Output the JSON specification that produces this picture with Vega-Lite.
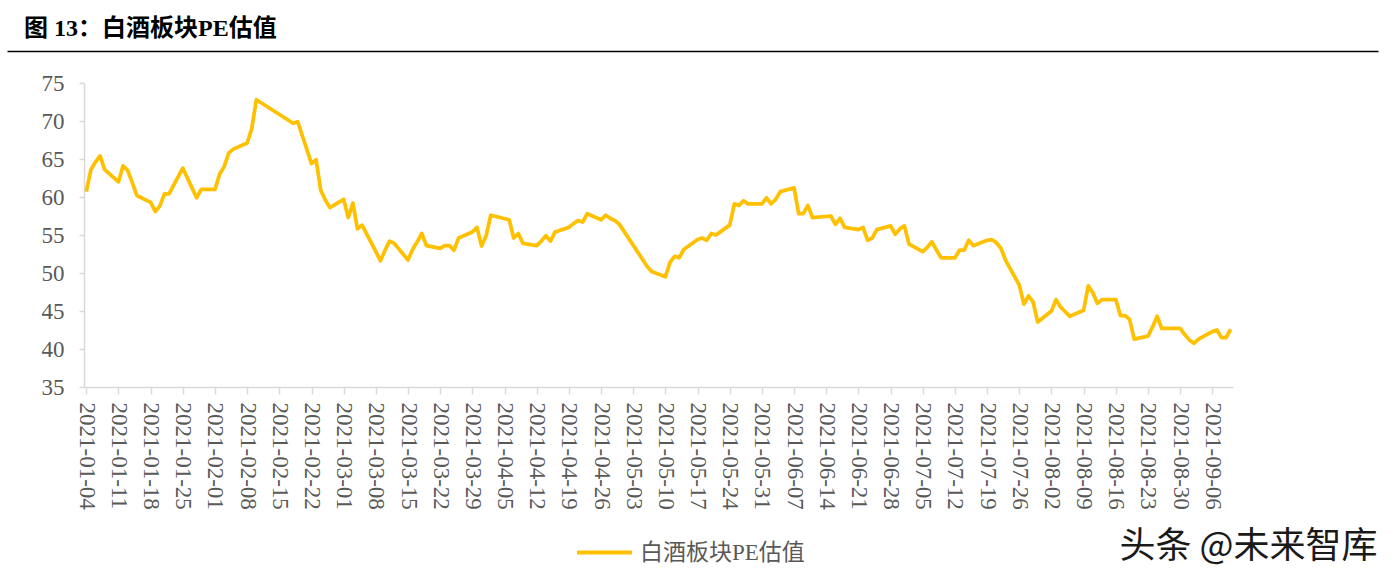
{
  "$schema": "https://vega.github.io/schema/vega-lite/v6.json",
  "width": 1371,
  "height": 336,
  "autosize": {"type": "pad"},
  "padding": {"left": 7, "top": 17, "right": 16, "bottom": 10},
  "background": "white",
  "title": {
    "text": "图 13：白酒板块PE估值",
    "anchor": "start",
    "frame": "group",
    "dx": 17,
    "offset": 10,
    "font": "Liberation Serif, Noto Sans CJK SC",
    "fontSize": 24,
    "fontWeight": "bold",
    "color": "#000000"
  },
  "config": {"view": {"stroke": null}},
  "layer": [
    {
      "data": {
        "values": [
          {"date": "2021-01-04", "pe": 60.7},
          {"date": "2021-01-05", "pe": 63.6},
          {"date": "2021-01-06", "pe": 64.6},
          {"date": "2021-01-07", "pe": 65.4},
          {"date": "2021-01-08", "pe": 63.6},
          {"date": "2021-01-11", "pe": 62.0},
          {"date": "2021-01-12", "pe": 64.1},
          {"date": "2021-01-13", "pe": 63.5},
          {"date": "2021-01-14", "pe": 61.9},
          {"date": "2021-01-15", "pe": 60.2},
          {"date": "2021-01-18", "pe": 59.3},
          {"date": "2021-01-19", "pe": 58.1},
          {"date": "2021-01-20", "pe": 58.8},
          {"date": "2021-01-21", "pe": 60.4},
          {"date": "2021-01-22", "pe": 60.4},
          {"date": "2021-01-25", "pe": 63.8},
          {"date": "2021-01-26", "pe": 62.5},
          {"date": "2021-01-27", "pe": 61.2},
          {"date": "2021-01-28", "pe": 59.9},
          {"date": "2021-01-29", "pe": 61.0},
          {"date": "2021-02-01", "pe": 61.0},
          {"date": "2021-02-02", "pe": 63.0},
          {"date": "2021-02-03", "pe": 64.0},
          {"date": "2021-02-04", "pe": 65.8},
          {"date": "2021-02-05", "pe": 66.3},
          {"date": "2021-02-08", "pe": 67.1},
          {"date": "2021-02-09", "pe": 69.0},
          {"date": "2021-02-10", "pe": 72.8},
          {"date": "2021-02-18", "pe": 69.7},
          {"date": "2021-02-19", "pe": 69.9},
          {"date": "2021-02-22", "pe": 64.4},
          {"date": "2021-02-23", "pe": 64.9},
          {"date": "2021-02-24", "pe": 60.9},
          {"date": "2021-02-25", "pe": 59.6},
          {"date": "2021-02-26", "pe": 58.6},
          {"date": "2021-03-01", "pe": 59.7},
          {"date": "2021-03-02", "pe": 57.3},
          {"date": "2021-03-03", "pe": 59.2},
          {"date": "2021-03-04", "pe": 55.8},
          {"date": "2021-03-05", "pe": 56.3},
          {"date": "2021-03-08", "pe": 52.8},
          {"date": "2021-03-09", "pe": 51.6},
          {"date": "2021-03-10", "pe": 53.0},
          {"date": "2021-03-11", "pe": 54.2},
          {"date": "2021-03-12", "pe": 53.9},
          {"date": "2021-03-15", "pe": 51.7},
          {"date": "2021-03-16", "pe": 53.1},
          {"date": "2021-03-17", "pe": 54.1},
          {"date": "2021-03-18", "pe": 55.2},
          {"date": "2021-03-19", "pe": 53.6},
          {"date": "2021-03-22", "pe": 53.25},
          {"date": "2021-03-23", "pe": 53.6},
          {"date": "2021-03-24", "pe": 53.6},
          {"date": "2021-03-25", "pe": 53.0},
          {"date": "2021-03-26", "pe": 54.6},
          {"date": "2021-03-29", "pe": 55.4},
          {"date": "2021-03-30", "pe": 56.0},
          {"date": "2021-03-31", "pe": 53.55},
          {"date": "2021-04-01", "pe": 54.9},
          {"date": "2021-04-02", "pe": 57.6},
          {"date": "2021-04-06", "pe": 57.0},
          {"date": "2021-04-07", "pe": 54.6},
          {"date": "2021-04-08", "pe": 55.2},
          {"date": "2021-04-09", "pe": 53.9},
          {"date": "2021-04-12", "pe": 53.6},
          {"date": "2021-04-13", "pe": 54.2},
          {"date": "2021-04-14", "pe": 54.9},
          {"date": "2021-04-15", "pe": 54.2},
          {"date": "2021-04-16", "pe": 55.4},
          {"date": "2021-04-19", "pe": 56.0},
          {"date": "2021-04-20", "pe": 56.5},
          {"date": "2021-04-21", "pe": 56.9},
          {"date": "2021-04-22", "pe": 56.7},
          {"date": "2021-04-23", "pe": 57.8},
          {"date": "2021-04-26", "pe": 57.0},
          {"date": "2021-04-27", "pe": 57.6},
          {"date": "2021-04-28", "pe": 57.2},
          {"date": "2021-04-29", "pe": 56.9},
          {"date": "2021-04-30", "pe": 56.4},
          {"date": "2021-05-06", "pe": 50.9},
          {"date": "2021-05-07", "pe": 50.2},
          {"date": "2021-05-10", "pe": 49.5},
          {"date": "2021-05-11", "pe": 51.4},
          {"date": "2021-05-12", "pe": 52.2},
          {"date": "2021-05-13", "pe": 52.0},
          {"date": "2021-05-14", "pe": 53.1},
          {"date": "2021-05-17", "pe": 54.4},
          {"date": "2021-05-18", "pe": 54.6},
          {"date": "2021-05-19", "pe": 54.3},
          {"date": "2021-05-20", "pe": 55.2},
          {"date": "2021-05-21", "pe": 55.0},
          {"date": "2021-05-24", "pe": 56.3},
          {"date": "2021-05-25", "pe": 59.1},
          {"date": "2021-05-26", "pe": 58.9},
          {"date": "2021-05-27", "pe": 59.5},
          {"date": "2021-05-28", "pe": 59.1},
          {"date": "2021-05-31", "pe": 59.1},
          {"date": "2021-06-01", "pe": 59.9},
          {"date": "2021-06-02", "pe": 59.1},
          {"date": "2021-06-03", "pe": 59.7},
          {"date": "2021-06-04", "pe": 60.7},
          {"date": "2021-06-07", "pe": 61.2},
          {"date": "2021-06-08", "pe": 57.8},
          {"date": "2021-06-09", "pe": 57.8},
          {"date": "2021-06-10", "pe": 58.9},
          {"date": "2021-06-11", "pe": 57.3},
          {"date": "2021-06-15", "pe": 57.5},
          {"date": "2021-06-16", "pe": 56.4},
          {"date": "2021-06-17", "pe": 57.2},
          {"date": "2021-06-18", "pe": 56.0},
          {"date": "2021-06-21", "pe": 55.7},
          {"date": "2021-06-22", "pe": 56.0},
          {"date": "2021-06-23", "pe": 54.3},
          {"date": "2021-06-24", "pe": 54.6},
          {"date": "2021-06-25", "pe": 55.7},
          {"date": "2021-06-28", "pe": 56.2},
          {"date": "2021-06-29", "pe": 55.1},
          {"date": "2021-06-30", "pe": 55.8},
          {"date": "2021-07-01", "pe": 56.2},
          {"date": "2021-07-02", "pe": 53.8},
          {"date": "2021-07-05", "pe": 52.8},
          {"date": "2021-07-06", "pe": 53.4},
          {"date": "2021-07-07", "pe": 54.1},
          {"date": "2021-07-08", "pe": 53.0},
          {"date": "2021-07-09", "pe": 52.0},
          {"date": "2021-07-12", "pe": 52.0},
          {"date": "2021-07-13", "pe": 53.0},
          {"date": "2021-07-14", "pe": 53.0},
          {"date": "2021-07-15", "pe": 54.3},
          {"date": "2021-07-16", "pe": 53.6},
          {"date": "2021-07-19", "pe": 54.3},
          {"date": "2021-07-20", "pe": 54.4},
          {"date": "2021-07-21", "pe": 54.0},
          {"date": "2021-07-22", "pe": 53.25},
          {"date": "2021-07-23", "pe": 51.7},
          {"date": "2021-07-26", "pe": 48.4},
          {"date": "2021-07-27", "pe": 45.9},
          {"date": "2021-07-28", "pe": 47.0},
          {"date": "2021-07-29", "pe": 46.2},
          {"date": "2021-07-30", "pe": 43.55},
          {"date": "2021-08-02", "pe": 45.0},
          {"date": "2021-08-03", "pe": 46.5},
          {"date": "2021-08-04", "pe": 45.5},
          {"date": "2021-08-05", "pe": 44.9},
          {"date": "2021-08-06", "pe": 44.3},
          {"date": "2021-08-09", "pe": 45.1},
          {"date": "2021-08-10", "pe": 48.3},
          {"date": "2021-08-11", "pe": 47.4},
          {"date": "2021-08-12", "pe": 46.0},
          {"date": "2021-08-13", "pe": 46.5},
          {"date": "2021-08-16", "pe": 46.5},
          {"date": "2021-08-17", "pe": 44.4},
          {"date": "2021-08-18", "pe": 44.4},
          {"date": "2021-08-19", "pe": 43.9},
          {"date": "2021-08-20", "pe": 41.3},
          {"date": "2021-08-23", "pe": 41.7},
          {"date": "2021-08-24", "pe": 42.9},
          {"date": "2021-08-25", "pe": 44.3},
          {"date": "2021-08-26", "pe": 42.7},
          {"date": "2021-08-27", "pe": 42.7},
          {"date": "2021-08-30", "pe": 42.7},
          {"date": "2021-08-31", "pe": 41.9},
          {"date": "2021-09-01", "pe": 41.2},
          {"date": "2021-09-02", "pe": 40.75},
          {"date": "2021-09-03", "pe": 41.3},
          {"date": "2021-09-06", "pe": 42.3},
          {"date": "2021-09-07", "pe": 42.5},
          {"date": "2021-09-08", "pe": 41.5},
          {"date": "2021-09-09", "pe": 41.5},
          {"date": "2021-09-10", "pe": 42.6}
        ]
      },
      "mark": {"type": "line", "strokeWidth": 3.75, "strokeJoin": "round", "strokeCap": "butt"},
      "encoding": {
        "x": {
          "field": "date",
          "type": "temporal",
          "scale": {
            "type": "utc",
            "domain": [
              {"year": 2021, "month": 1, "date": 3, "hours": 12, "utc": true},
              {"year": 2021, "month": 9, "date": 10, "hours": 12, "utc": true}
            ],
            "range": [77, 1226]
          },
          "axis": {
            "orient": "bottom",
            "values": [
              {"year": 2021, "month": 1, "date": 4, "utc": true},
              {"year": 2021, "month": 1, "date": 11, "utc": true},
              {"year": 2021, "month": 1, "date": 18, "utc": true},
              {"year": 2021, "month": 1, "date": 25, "utc": true},
              {"year": 2021, "month": 2, "date": 1, "utc": true},
              {"year": 2021, "month": 2, "date": 8, "utc": true},
              {"year": 2021, "month": 2, "date": 15, "utc": true},
              {"year": 2021, "month": 2, "date": 22, "utc": true},
              {"year": 2021, "month": 3, "date": 1, "utc": true},
              {"year": 2021, "month": 3, "date": 8, "utc": true},
              {"year": 2021, "month": 3, "date": 15, "utc": true},
              {"year": 2021, "month": 3, "date": 22, "utc": true},
              {"year": 2021, "month": 3, "date": 29, "utc": true},
              {"year": 2021, "month": 4, "date": 5, "utc": true},
              {"year": 2021, "month": 4, "date": 12, "utc": true},
              {"year": 2021, "month": 4, "date": 19, "utc": true},
              {"year": 2021, "month": 4, "date": 26, "utc": true},
              {"year": 2021, "month": 5, "date": 3, "utc": true},
              {"year": 2021, "month": 5, "date": 10, "utc": true},
              {"year": 2021, "month": 5, "date": 17, "utc": true},
              {"year": 2021, "month": 5, "date": 24, "utc": true},
              {"year": 2021, "month": 5, "date": 31, "utc": true},
              {"year": 2021, "month": 6, "date": 7, "utc": true},
              {"year": 2021, "month": 6, "date": 14, "utc": true},
              {"year": 2021, "month": 6, "date": 21, "utc": true},
              {"year": 2021, "month": 6, "date": 28, "utc": true},
              {"year": 2021, "month": 7, "date": 5, "utc": true},
              {"year": 2021, "month": 7, "date": 12, "utc": true},
              {"year": 2021, "month": 7, "date": 19, "utc": true},
              {"year": 2021, "month": 7, "date": 26, "utc": true},
              {"year": 2021, "month": 8, "date": 2, "utc": true},
              {"year": 2021, "month": 8, "date": 9, "utc": true},
              {"year": 2021, "month": 8, "date": 16, "utc": true},
              {"year": 2021, "month": 8, "date": 23, "utc": true},
              {"year": 2021, "month": 8, "date": 30, "utc": true},
              {"year": 2021, "month": 9, "date": 6, "utc": true}
            ],
            "labelExpr": "utcFormat(datum.value, '%Y-%m-%d')",
            "labelAngle": 90,
            "labelFlush": false,
            "labelOverlap": false,
            "labelFont": "Liberation Serif",
            "labelFontSize": 23,
            "labelColor": "#595959",
            "labelPadding": 8,
            "tickColor": "#D9D9D9",
            "tickSize": 7,
            "tickWidth": 1.5,
            "domainColor": "#D9D9D9",
            "domainWidth": 1.5,
            "grid": false,
            "title": "头条 @未来智库",
            "titleX": 1370,
            "titleY": 159,
            "titleAlign": "right",
            "titleBaseline": "middle",
            "titleAngle": 0,
            "titleFont": "Noto Sans CJK SC",
            "titleFontSize": 36,
            "titleFontWeight": "normal",
            "titleColor": "#1a1a1a"
          }
        },
        "y": {
          "field": "pe",
          "type": "quantitative",
          "scale": {"domain": [35, 75], "range": [336, 32], "nice": false, "zero": false},
          "axis": {
            "orient": "left",
            "offset": -77,
            "values": [35, 40, 45, 50, 55, 60, 65, 70, 75],
            "labelFont": "Liberation Serif",
            "labelFontSize": 23,
            "labelColor": "#595959",
            "labelPadding": 15,
            "tickColor": "#D9D9D9",
            "tickSize": 5,
            "tickWidth": 1.5,
            "domainColor": "#D9D9D9",
            "domainWidth": 1.5,
            "grid": false,
            "title": null
          }
        },
        "color": {
          "datum": "白酒板块PE估值",
          "scale": {"range": ["#FFC000"]},
          "legend": {
            "orient": "none",
            "legendX": 568,
            "legendY": 472,
            "title": null,
            "padding": 0,
            "symbolType": "stroke",
            "symbolSize": 3025,
            "symbolStrokeWidth": 4,
            "labelFont": "Liberation Serif, Noto Sans CJK SC",
            "labelFontSize": 23,
            "labelColor": "#595959",
            "labelOffset": 6,
            "labelLimit": 400
          }
        }
      }
    },
    {
      "data": {"values": [{"u": 0.5}]},
      "mark": {"type": "point", "opacity": 0, "size": 1},
      "encoding": {
        "x": {
          "field": "u",
          "type": "quantitative",
          "scale": {"domain": [0, 1]},
          "axis": {
            "orient": "top",
            "domainColor": "#000000",
            "domainWidth": 1.3,
            "ticks": false,
            "labels": false,
            "grid": false,
            "title": null
          }
        }
      }
    }
  ],
  "resolve": {"scale": {"x": "independent"}}
}
